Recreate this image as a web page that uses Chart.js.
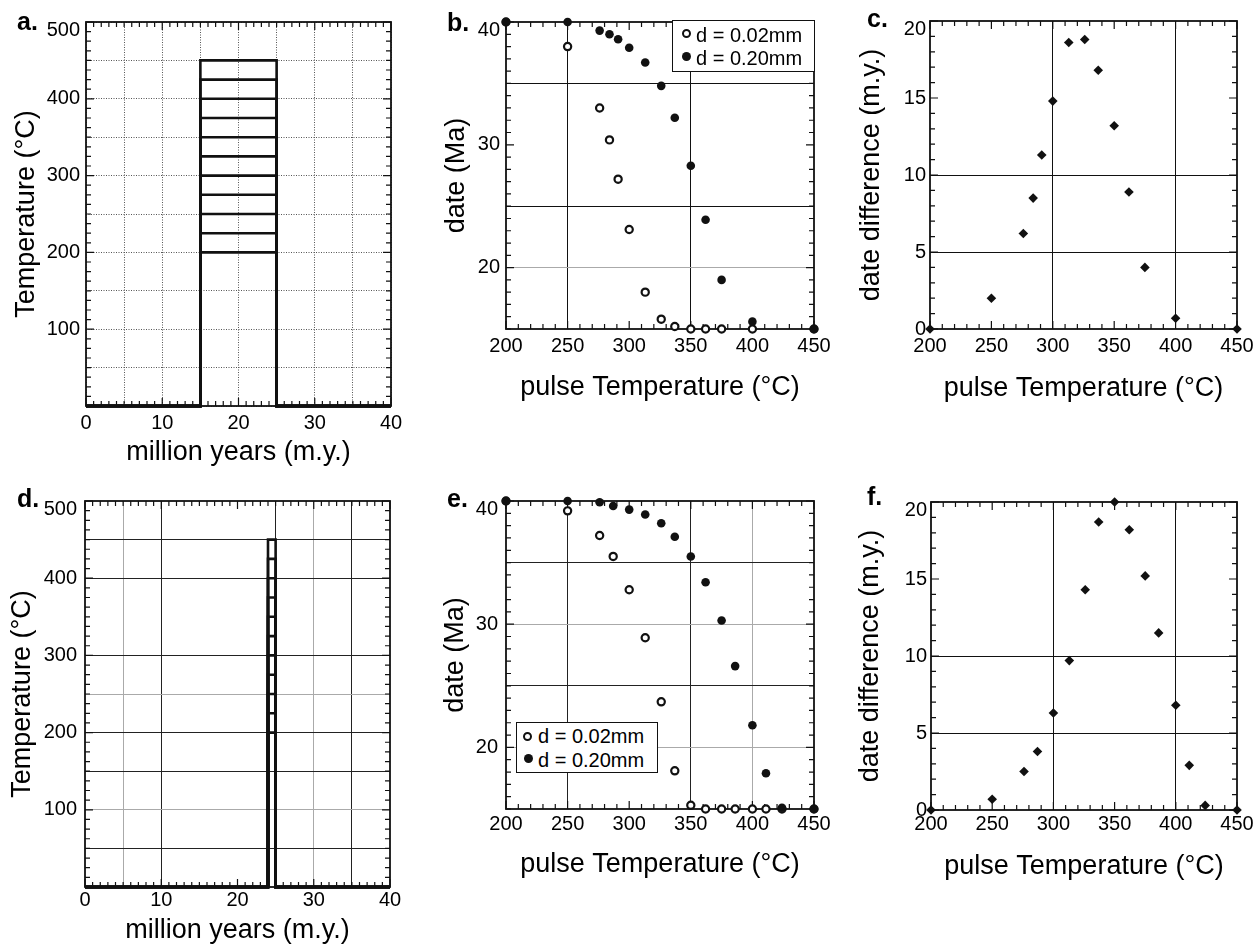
<!DOCTYPE html>
<html>
<head>
<meta charset="utf-8">
<script src="https://cdn.jsdelivr.net/npm/chart.js@4/dist/chart.umd.min.js"></script>
<style>
  body { margin: 0; background: #fff; width: 1260px; height: 947px; position: relative; overflow: hidden;
         font-family: "Liberation Sans", Arial, Helvetica, sans-serif; color: #000; }
  canvas { position: absolute; }
  .lbl { position: absolute; font-weight: bold; font-size: 25px; line-height: 0; }
  .legend { position: absolute; background: #fff; border: 1.5px solid #111; box-sizing: border-box; }
  .lt { position: absolute; font-size: 20px; line-height: 0; white-space: nowrap; }
  .mk { position: absolute; width: 9px; height: 9px; border-radius: 50%; box-sizing: border-box; }
  .mk.open { border: 2.2px solid #111; background: #fff; }
  .mk.fill { background: #111; }
</style>
</head>
<body>
<canvas id="a" width="420" height="470" style="left:0;top:0"></canvas>
<canvas id="b" width="425" height="470" style="left:420px;top:0"></canvas>
<canvas id="c" width="415" height="470" style="left:845px;top:0"></canvas>
<canvas id="d" width="420" height="477" style="left:0;top:470px"></canvas>
<canvas id="e" width="425" height="477" style="left:420px;top:470px"></canvas>
<canvas id="f" width="415" height="477" style="left:845px;top:470px"></canvas>

<div class="lbl" style="left:17px;top:21px">a.</div>
<div class="lbl" style="left:447px;top:22px">b.</div>
<div class="lbl" style="left:867px;top:18px">c.</div>
<div class="lbl" style="left:17px;top:498px">d.</div>
<div class="lbl" style="left:447px;top:498px">e.</div>
<div class="lbl" style="left:867px;top:496px">f.</div>

<!-- legend panel b -->
<div class="legend" style="left:672px;top:20px;width:143px;height:52px"></div>
<div class="mk open" style="left:682px;top:29px"></div>
<div class="mk fill" style="left:682px;top:52px"></div>
<div class="lt" style="left:696px;top:35px">d = 0.02mm</div>
<div class="lt" style="left:696px;top:58px">d = 0.20mm</div>

<!-- legend panel e -->
<div class="legend" style="left:516px;top:722px;width:142px;height:51px"></div>
<div class="mk open" style="left:523px;top:732px"></div>
<div class="mk fill" style="left:524px;top:754px"></div>
<div class="lt" style="left:538px;top:736px">d = 0.02mm</div>
<div class="lt" style="left:538px;top:760px">d = 0.20mm</div>

<script>
// pulse histories (panels a, d)
const pulseTemps = [200, 225, 250, 275, 300, 325, 350, 375, 400, 425, 450]
const pulseA = [15, 25]
const pulseD = [24, 25]
const timeRange = [0, 40]

// panels b, c
const tempsB = [200, 250, 276, 284, 291, 300, 313, 326, 337, 350, 362, 375, 400, 450]
const openB = [40, 38.0, 33.0, 30.4, 27.2, 23.1, 18.0, 15.8, 15.2, 15.0, 15.0, 15.0, 15.0, 15.0]
const filledB = [40, 40, 39.3, 39.0, 38.6, 37.9, 36.7, 34.8, 32.2, 28.3, 23.9, 19.0, 15.6, 15.0]
const diffC = [0, 2.0, 6.2, 8.5, 11.3, 14.8, 18.6, 18.8, 16.8, 13.2, 8.9, 4.0, 0.7, 0]

// panels e, f
const tempsE = [200, 250, 276, 287, 300, 313, 326, 337, 350, 362, 375, 386, 400, 411, 424, 450]
const openE = [40, 39.2, 37.2, 35.5, 32.8, 28.9, 23.7, 18.1, 15.3, 15, 15, 15, 15, 15, 15, 15]
const filledE = [40, 40, 39.9, 39.6, 39.3, 38.9, 38.2, 37.1, 35.5, 33.4, 30.3, 26.6, 21.8, 17.9, 15.1, 15]
const diffF = [0, 0.7, 2.5, 3.8, 6.3, 9.7, 14.3, 18.7, 20.0, 18.2, 15.2, 11.5, 6.8, 2.9, 0.3, 0]

// tick labels
const timeTicks = [0, 10, 20, 30, 40]
const tempTicks = [100, 200, 300, 400, 500]
const pulseTicks = [200, 250, 300, 350, 400, 450]
const dateTicks = [20, 30, 40]
const diffTicks = [0, 5, 10, 15, 20]

Chart.defaults.font.family = '"Liberation Sans", Arial, Helvetica, sans-serif'
Chart.defaults.color = "#000"

const ink = "#111"
const none = "rgba(0,0,0,0)"

// helpers
const points = (xs, ys) => xs.map((x, i) => ({ x: x, y: ys[i] }))
const pulsePath = (t, span) => [
  { x: timeRange[0], y: 0 },
  { x: span[0], y: 0 },
  { x: span[0], y: t },
  { x: span[1], y: t },
  { x: span[1], y: 0 },
  { x: timeRange[1], y: 0 },
]
const gridFrom = (map) => (ctx) => (ctx.tick && map[ctx.tick.value]) || none

// box round the plot area with small inward ticks on every side
function frame(xMinor, yMinor, xLabels, yLabels) {
  return {
    id: "frame",
    beforeDatasetsDraw(chart) {
      const { ctx, chartArea: a, scales } = chart
      const sx = scales.x
      const sy = scales.y
      ctx.save()
      ctx.strokeStyle = ink
      ctx.lineWidth = 1.2
      ctx.beginPath()
      for (let v = sx.min; v <= sx.max + 1e-6; v += xMinor) {
        const p = sx.getPixelForValue(v)
        const len = xLabels.includes(v) ? 8 : 5
        ctx.moveTo(p, a.bottom); ctx.lineTo(p, a.bottom - len)
        ctx.moveTo(p, a.top); ctx.lineTo(p, a.top + len)
      }
      for (let v = sy.min; v <= sy.max + 1e-6; v += yMinor) {
        const p = sy.getPixelForValue(v)
        const len = yLabels.includes(v) ? 8 : 5
        ctx.moveTo(a.left, p); ctx.lineTo(a.left + len, p)
        ctx.moveTo(a.right, p); ctx.lineTo(a.right - len, p)
      }
      ctx.stroke()
      ctx.lineWidth = 1.8
      ctx.strokeRect(a.left, a.top, a.right - a.left, a.bottom - a.top)
      ctx.restore()
    },
  }
}

function axis(o, vertical) {
  return {
    type: "linear",
    min: o.min,
    max: o.max,
    afterFit: (s) => {
      if (s.isHorizontal()) s.height = o.size
      else s.width = o.size
    },
    border: { display: false, dash: o.dash || [] },
    grid: { drawTicks: false, lineWidth: 1, color: o.grid },
    ticks: {
      stepSize: o.step,
      autoSkip: false,
      maxRotation: 0,
      padding: o.pad,
      color: "#000",
      font: { size: 20, lineHeight: vertical ? 0.8 : 1.2 },
      // the top label of each y axis sits a little below its tick in the original
      callback: (v) => {
        if (!o.labels.includes(v)) return ""
        return vertical && v === o.max ? ["", String(v)] : v
      },
    },
    title: {
      display: true,
      text: o.title,
      color: "#000",
      font: { size: 27 },
      padding: o.titlePad,
    },
  }
}

function panel(id, cfg) {
  return new Chart(document.getElementById(id), {
    type: "scatter",
    data: { datasets: cfg.datasets },
    options: {
      responsive: false,
      animation: false,
      events: [],
      layout: { padding: cfg.pad },
      plugins: { legend: { display: false }, tooltip: { enabled: false } },
      scales: { x: axis(cfg.x, false), y: axis(cfg.y, true) },
    },
    plugins: [frame(cfg.minor[0], cfg.minor[1], cfg.x.labels, cfg.y.labels)],
  })
}

const pulseSets = (span) =>
  pulseTemps.map((t) => ({
    data: pulsePath(t, span),
    showLine: true,
    tension: 0,
    borderColor: ink,
    borderWidth: 2.6,
    pointRadius: 0,
    clip: false,
  }))

const openSet = (xs, ys) => ({
  data: points(xs, ys),
  pointStyle: "circle",
  pointRadius: 3.6,
  pointBorderWidth: 2.2,
  pointBorderColor: ink,
  pointBackgroundColor: "#fff",
  clip: false,
})
const filledSet = (xs, ys) => ({
  data: points(xs, ys),
  pointStyle: "circle",
  pointRadius: 4.3,
  pointBorderWidth: 0,
  pointBackgroundColor: ink,
  clip: false,
})
const diamondSet = (xs, ys) => ({
  data: points(xs, ys),
  pointStyle: "rectRot",
  pointRadius: 4.8,
  pointBorderWidth: 0,
  pointBackgroundColor: ink,
  clip: false,
})

const timeTitle = "million years (m.y.)"
const tempTitle = "Temperature (\u00B0C)"
const pulseTitle = "pulse Temperature (\u00B0C)"

// a.
panel("a", {
  pad: { left: 0, top: 21, right: 29, bottom: 0 },
  minor: [1, 12.5],
  datasets: pulseSets(pulseA),
  x: { min: 0, max: 40, step: 5, labels: timeTicks, size: 64, pad: 5.5, grid: "#555", dash: [1, 1.5],
       title: timeTitle, titlePad: { top: 0, bottom: 0.8 } },
  y: { min: 0, max: 500, step: 50, labels: tempTicks, size: 86, pad: 6, grid: "#555", dash: [1, 1.5],
       title: tempTitle, titlePad: { top: 10.2, bottom: 0 } },
})

// b.  (filled set first so it is drawn on top)
panel("b", {
  pad: { left: 0, top: 22, right: 31, bottom: 0 },
  minor: [10, 1],
  datasets: [filledSet(tempsB, filledB), openSet(tempsB, openB)],
  x: { min: 200, max: 450, step: 50, labels: pulseTicks, size: 141, pad: 5,
       grid: gridFrom({ 250: ink, 350: ink }), title: pulseTitle, titlePad: { top: 0, bottom: 66.4 } },
  y: { min: 15, max: 40, step: 5, labels: dateTicks, size: 86, pad: 6,
       grid: gridFrom({ 20: "#aaa", 25: ink, 35: ink }), title: "date (Ma)", titlePad: { top: 20.2, bottom: 0 } },
})

// c.
panel("c", {
  pad: { left: 0, top: 21, right: 23, bottom: 0 },
  minor: [10, 1],
  datasets: [diamondSet(tempsB, diffC)],
  x: { min: 200, max: 450, step: 50, labels: pulseTicks, size: 141, pad: 5,
       grid: gridFrom({ 300: ink, 400: ink }), title: pulseTitle, titlePad: { top: 0, bottom: 65 } },
  y: { min: 0, max: 20, step: 5, labels: diffTicks, size: 85, pad: 4,
       grid: gridFrom({ 5: ink, 10: ink }), title: "date difference (m.y.)", titlePad: { top: 10.3, bottom: 0 } },
})

// d.
panel("d", {
  pad: { left: 0, top: 31, right: 30, bottom: 0 },
  minor: [1, 12.5],
  datasets: pulseSets(pulseD),
  x: { min: 0, max: 40, step: 5, labels: timeTicks, size: 60, pad: 1.5,
       grid: gridFrom({ 5: "#aaa", 10: "#222", 25: "#222", 30: "#aaa", 35: "#222" }),
       title: timeTitle, titlePad: { top: 0, bottom: 0 } },
  y: { min: 0, max: 500, step: 50, labels: tempTicks, size: 85, pad: 8,
       grid: gridFrom({ 50: "#222", 100: "#aaa", 150: "#222", 200: "#222", 250: "#aaa", 300: "#222", 400: "#222", 450: "#222" }),
       title: tempTitle, titlePad: { top: 6.2, bottom: 0 } },
})

// e.
panel("e", {
  pad: { left: 0, top: 31, right: 31, bottom: 0 },
  minor: [10, 1],
  datasets: [filledSet(tempsE, filledE), openSet(tempsE, openE)],
  x: { min: 200, max: 450, step: 50, labels: pulseTicks, size: 138, pad: 3,
       grid: gridFrom({ 250: "#222", 350: "#222", 400: "#aaa" }), title: pulseTitle, titlePad: { top: 0, bottom: 66 } },
  y: { min: 15, max: 40, step: 5, labels: dateTicks, size: 86, pad: 8,
       grid: gridFrom({ 20: "#aaa", 25: "#222", 30: "#aaa", 35: "#222" }), title: "date (Ma)", titlePad: { top: 19.5, bottom: 0 } },
})

// f.
panel("f", {
  pad: { left: 0, top: 32, right: 23, bottom: 0 },
  minor: [10, 1],
  datasets: [diamondSet(tempsE, diffF)],
  x: { min: 200, max: 450, step: 50, labels: pulseTicks, size: 137, pad: 2,
       grid: gridFrom({ 300: ink, 400: ink }), title: pulseTitle, titlePad: { top: 0, bottom: 64.4 } },
  y: { min: 0, max: 20, step: 5, labels: diffTicks, size: 86, pad: 4,
       grid: gridFrom({ 5: ink, 10: ink }), title: "date difference (m.y.)", titlePad: { top: 9.8, bottom: 0 } },
})
</script>
</body>
</html>
